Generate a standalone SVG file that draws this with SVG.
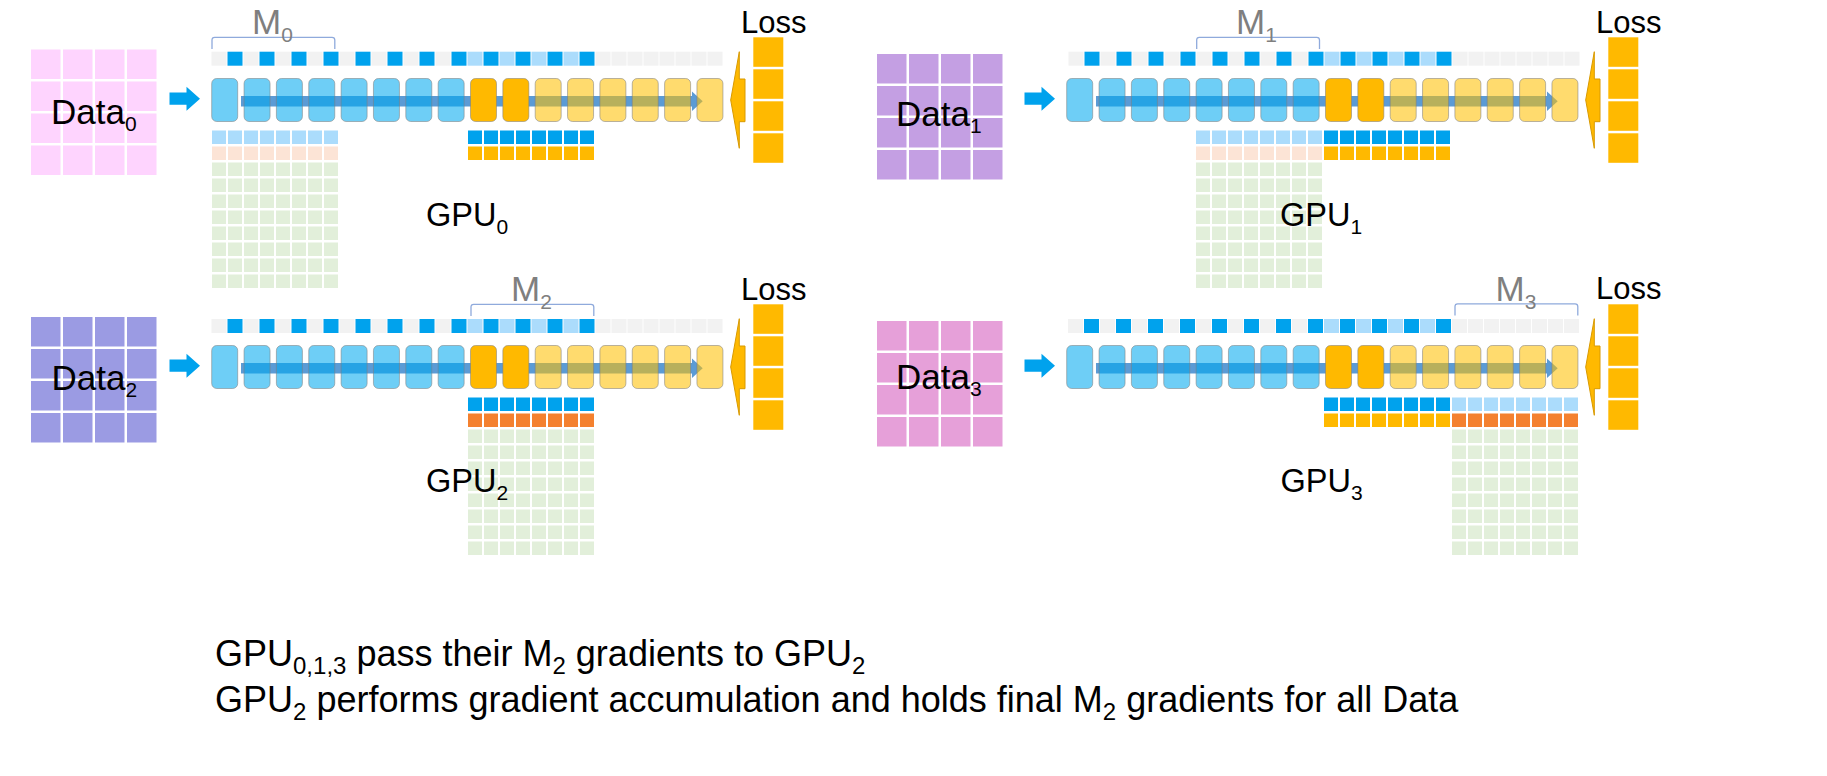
<svg xmlns="http://www.w3.org/2000/svg" width="1827" height="776" viewBox="0 0 1827 776">
<style>
 text{font-family:"Liberation Sans",Arial,Helvetica,sans-serif;fill:#000}
 .data{font-size:35px}
 .loss{font-size:31px}
 .gpu{font-size:32.5px}
 .m{font-size:35px;fill:#7f7f7f}
 .note{font-size:36px}
 .s{font-size:21px}
 .s2{font-size:24px}
 .sg{fill:#f2f2f2}.sb{fill:#00a2ed}.sl{fill:#abdcfc}
 .bb{fill:#00a9f0;fill-opacity:.57;stroke:#7f7f7f;stroke-opacity:.55}
 .bo{fill:#ffb900;stroke:#7f7f7f;stroke-opacity:.55}
 .by{fill:#ffc000;fill-opacity:.57;stroke:#7f7f7f;stroke-opacity:.55}
 .band{fill:#5b9bd5}
 .in{fill:#00a2ed}
 .back{fill:#ffb900;stroke:#d99a00;stroke-width:1}
 .lossc{fill:#ffb900}
 .br{fill:none;stroke:#8faadc;stroke-width:1.3}
</style>
<defs>
 <g id="strip">
  <rect class="sg" x="0" width="15" height="14"/><rect class="sb" x="16" width="15" height="14"/>
  <rect class="sg" x="32" width="15" height="14"/><rect class="sb" x="48" width="15" height="14"/>
  <rect class="sg" x="64" width="15" height="14"/><rect class="sb" x="80" width="15" height="14"/>
  <rect class="sg" x="96" width="15" height="14"/><rect class="sb" x="112" width="15" height="14"/>
  <rect class="sg" x="128" width="15" height="14"/><rect class="sb" x="144" width="15" height="14"/>
  <rect class="sg" x="160" width="15" height="14"/><rect class="sb" x="176" width="15" height="14"/>
  <rect class="sg" x="192" width="15" height="14"/><rect class="sb" x="208" width="15" height="14"/>
  <rect class="sg" x="224" width="15" height="14"/><rect class="sb" x="240" width="15" height="14"/>
  <rect class="sl" x="256" width="15" height="14"/><rect class="sb" x="272" width="15" height="14"/>
  <rect class="sl" x="288" width="15" height="14"/><rect class="sb" x="304" width="15" height="14"/>
  <rect class="sl" x="320" width="15" height="14"/><rect class="sb" x="336" width="15" height="14"/>
  <rect class="sl" x="352" width="15" height="14"/><rect class="sb" x="368" width="15" height="14"/>
  <rect class="sg" x="384" width="15" height="14"/><rect class="sg" x="400" width="15" height="14"/>
  <rect class="sg" x="416" width="15" height="14"/><rect class="sg" x="432" width="15" height="14"/>
  <rect class="sg" x="448" width="15" height="14"/><rect class="sg" x="464" width="15" height="14"/>
  <rect class="sg" x="480" width="15" height="14"/><rect class="sg" x="496" width="15" height="14"/>
 </g>
 <g id="boxes">
  <rect class="bb" x="0" width="26" height="43" rx="5"/>
  <rect class="bb" x="32.35" width="26" height="43" rx="5"/>
  <rect class="bb" x="64.7" width="26" height="43" rx="5"/>
  <rect class="bb" x="97.05" width="26" height="43" rx="5"/>
  <rect class="bb" x="129.4" width="26" height="43" rx="5"/>
  <rect class="bb" x="161.75" width="26" height="43" rx="5"/>
  <rect class="bb" x="194.1" width="26" height="43" rx="5"/>
  <rect class="bb" x="226.45" width="26" height="43" rx="5"/>
  <rect class="bo" x="258.8" width="26" height="43" rx="5"/>
  <rect class="bo" x="291.15" width="26" height="43" rx="5"/>
  <rect class="by" x="323.5" width="26" height="43" rx="5"/>
  <rect class="by" x="355.85" width="26" height="43" rx="5"/>
  <rect class="by" x="388.2" width="26" height="43" rx="5"/>
  <rect class="by" x="420.55" width="26" height="43" rx="5"/>
  <rect class="by" x="452.9" width="26" height="43" rx="5"/>
  <rect class="by" x="485.25" width="26" height="43" rx="5"/>
 </g>
 <g id="band" class="band">
  <rect x="29.3" y="17.5" width="451" height="10.5"/>
  <polygon points="480.3,13 491,22.75 480.3,32.5"/>
 </g>
 <polygon id="inArrow" class="in" points="169.5,92.5 186.5,92.5 186.5,86.7 200,98.7 186.5,110.7 186.5,104.8 169.5,104.8"/>
 <polygon id="backArrow" class="back" points="745,79 739.3,79 739.3,51.7 730.7,100 739.3,148.3 739.3,121.7 745,121.7"/>
 <g id="lossCol" class="lossc">
  <rect x="753.3" y="37.3" width="30" height="29.5"/>
  <rect x="753.3" y="69.3" width="30" height="29.5"/>
  <rect x="753.3" y="101.3" width="30" height="29.5"/>
  <rect x="753.3" y="133.3" width="30" height="29.5"/>
 </g>
 <g id="row8">
  <rect x="0" width="14" height="13.5"/><rect x="16" width="14" height="13.5"/>
  <rect x="32" width="14" height="13.5"/><rect x="48" width="14" height="13.5"/>
  <rect x="64" width="14" height="13.5"/><rect x="80" width="14" height="13.5"/>
  <rect x="96" width="14" height="13.5"/><rect x="112" width="14" height="13.5"/>
 </g>
 <g id="green8" fill="#e2efda">
  <use href="#row8" y="0"/><use href="#row8" y="16"/><use href="#row8" y="32"/><use href="#row8" y="48"/>
  <use href="#row8" y="64"/><use href="#row8" y="80"/><use href="#row8" y="96"/><use href="#row8" y="112"/>
 </g>
 <g id="dgrid">
  <rect x="0" y="0" width="29.5" height="29.5"/><rect x="32" y="0" width="29.5" height="29.5"/><rect x="64" y="0" width="29.5" height="29.5"/><rect x="96" y="0" width="29.5" height="29.5"/>
  <rect x="0" y="32" width="29.5" height="29.5"/><rect x="32" y="32" width="29.5" height="29.5"/><rect x="64" y="32" width="29.5" height="29.5"/><rect x="96" y="32" width="29.5" height="29.5"/>
  <rect x="0" y="64" width="29.5" height="29.5"/><rect x="32" y="64" width="29.5" height="29.5"/><rect x="64" y="64" width="29.5" height="29.5"/><rect x="96" y="64" width="29.5" height="29.5"/>
  <rect x="0" y="96" width="29.5" height="29.5"/><rect x="32" y="96" width="29.5" height="29.5"/><rect x="64" y="96" width="29.5" height="29.5"/><rect x="96" y="96" width="29.5" height="29.5"/>
 </g>
 <path id="brk" class="br" d="M0,11.7 V2.7 Q0,0 2.7,0 H120 Q122.8,0 122.8,2.7 V11.7"/>
</defs>

<g id="connectors">
 <use href="#band" x="211.7" y="78.5"/>
 <use href="#band" x="1066.7" y="78.5"/>
 <use href="#band" x="211.7" y="345.5"/>
 <use href="#band" x="1066.7" y="345.5"/>
 <use href="#inArrow"/>
 <use href="#inArrow" x="855"/>
 <use href="#inArrow" y="267"/>
 <use href="#inArrow" x="855" y="267"/>
 <use href="#backArrow"/>
 <use href="#backArrow" x="855"/>
 <use href="#backArrow" y="267"/>
 <use href="#backArrow" x="855" y="267"/>
</g>

<g id="gpu0">
 <use href="#dgrid" x="31" y="49.5" fill="#fed4fe"/>
 <text class="data" x="51" y="124">Data<tspan class="s" dy="7">0</tspan></text>
 <use href="#strip" x="211.5" y="51.7"/>
 <use href="#boxes" x="211.7" y="78.5"/>
 <use href="#lossCol"/>
 <text class="loss" x="741" y="33">Loss</text>
 <use href="#brk" x="212" y="37.3"/>
 <text class="m" x="252" y="34">M<tspan class="s" dy="8">0</tspan></text>
 <use href="#row8" x="212" y="130.5" fill="#abdcfc"/>
 <use href="#row8" x="212" y="146.5" fill="#fce4d6"/>
 <use href="#green8" x="212" y="162.5"/>
 <use href="#row8" x="468" y="130.5" fill="#00a2ed"/>
 <use href="#row8" x="468" y="146.5" fill="#ffb900"/>
 <text class="gpu" x="426" y="226">GPU<tspan class="s" dy="8">0</tspan></text>
</g>

<g id="gpu1">
 <use href="#dgrid" x="877" y="54" fill="#c49fe3"/>
 <text class="data" x="896" y="126">Data<tspan class="s" dy="7">1</tspan></text>
 <use href="#strip" x="1068.5" y="51.7"/>
 <use href="#boxes" x="1066.7" y="78.5"/>
 <use href="#lossCol" x="855"/>
 <text class="loss" x="1596" y="33">Loss</text>
 <use href="#brk" x="1196.7" y="37.3"/>
 <text class="m" x="1236" y="34">M<tspan class="s" dy="8">1</tspan></text>
 <use href="#row8" x="1196" y="130.5" fill="#abdcfc"/>
 <use href="#row8" x="1196" y="146.5" fill="#fce4d6"/>
 <use href="#green8" x="1196" y="162.5"/>
 <use href="#row8" x="1324" y="130.5" fill="#00a2ed"/>
 <use href="#row8" x="1324" y="146.5" fill="#ffb900"/>
 <text class="gpu" x="1280" y="225.5">GPU<tspan class="s" dy="8">1</tspan></text>
</g>

<g id="gpu2">
 <use href="#dgrid" x="31" y="317" fill="#9b9be3"/>
 <text class="data" x="51.5" y="390">Data<tspan class="s" dy="7">2</tspan></text>
 <use href="#strip" x="211.5" y="319"/>
 <use href="#boxes" x="211.7" y="345.5"/>
 <use href="#lossCol" y="267"/>
 <text class="loss" x="741" y="299.5">Loss</text>
 <use href="#brk" x="471" y="304.3"/>
 <text class="m" x="511" y="301">M<tspan class="s" dy="8">2</tspan></text>
 <use href="#row8" x="468" y="397.5" fill="#00a2ed"/>
 <use href="#row8" x="468" y="413.5" fill="#f4812f"/>
 <use href="#green8" x="468" y="429.5"/>
 <text class="gpu" x="426" y="492">GPU<tspan class="s" dy="8">2</tspan></text>
</g>

<g id="gpu3">
 <use href="#dgrid" x="877" y="321" fill="#e6a0d9"/>
 <text class="data" x="896" y="389">Data<tspan class="s" dy="7">3</tspan></text>
 <use href="#strip" x="1068" y="319"/>
 <use href="#boxes" x="1066.7" y="345.5"/>
 <use href="#lossCol" x="855" y="267"/>
 <text class="loss" x="1596" y="299">Loss</text>
 <use href="#brk" x="1455" y="303.8"/>
 <text class="m" x="1495.5" y="301">M<tspan class="s" dy="8">3</tspan></text>
 <use href="#row8" x="1324" y="397.5" fill="#00a2ed"/>
 <use href="#row8" x="1324" y="413.5" fill="#ffb900"/>
 <use href="#row8" x="1452" y="397.5" fill="#abdcfc"/>
 <use href="#row8" x="1452" y="413.5" fill="#f4812f"/>
 <use href="#green8" x="1452" y="429.5"/>
 <text class="gpu" x="1280.5" y="492">GPU<tspan class="s" dy="8">3</tspan></text>
</g>

<g id="notes">
 <text class="note" x="215" y="666">GPU<tspan class="s2" dy="8">0,1,3</tspan><tspan dy="-8"> pass their M</tspan><tspan class="s2" dy="8">2</tspan><tspan dy="-8"> gradients to GPU</tspan><tspan class="s2" dy="8">2</tspan></text>
 <text class="note" x="215" y="712">GPU<tspan class="s2" dy="8">2</tspan><tspan dy="-8"> performs gradient accumulation and holds final M</tspan><tspan class="s2" dy="8">2</tspan><tspan dy="-8"> gradients for all Data</tspan></text>
</g>
</svg>
